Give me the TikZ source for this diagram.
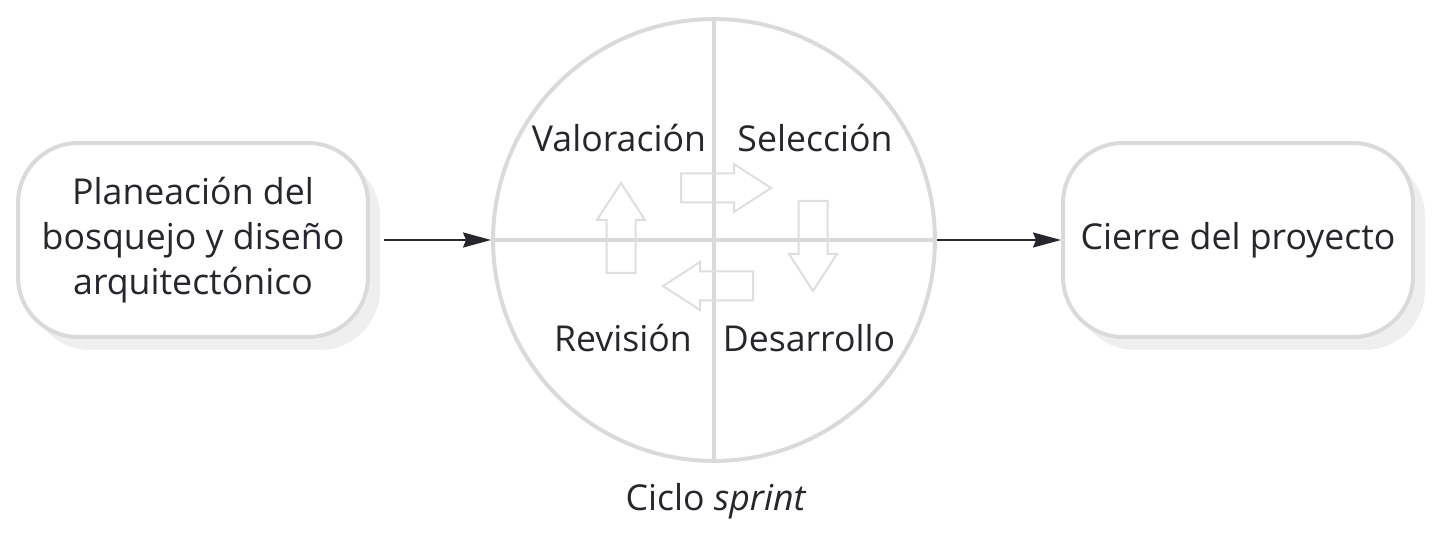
\documentclass[tikz,border=0pt]{standalone}
\usepackage{fontspec}
\setmainfont{Open Sans}
\usepackage{xcolor}
\usetikzlibrary{positioning, arrows.meta, shadows}

\definecolor{ink}{HTML}{25272D}
\definecolor{rim}{HTML}{DADADA}
\definecolor{shade}{HTML}{EFEFEF}
\definecolor{ghost}{HTML}{DEDEDE}

\begin{document}
\begin{tikzpicture}[
  x=0.02cm, y=0.02cm,
  every node/.style={font=\fontsize{20.3}{25.6}\selectfont, text=ink},
  phase/.style={draw=rim, line width=0.08cm, rounded corners=1.2cm,
    fill=white, minimum width=7cm, minimum height=3.88cm, align=center,
    drop shadow={shadow xshift=0.24cm, shadow yshift=-0.26cm,
      fill=shade, opacity=1}},
  conn/.style={-{Stealth[length=0.56cm, width=0.3cm, inset=0.06cm]},
    draw=ink, fill=ink, line width=0.04cm},
  blockline/.style={draw=ghost, line width=0.04cm, line join=miter},
  cyclearrow/.pic={
    \draw[blockline] (0,-14.5) -- (53,-14.5) -- (53,-24) -- (90,0)
      -- (53,24) -- (53,14.5) -- (0,14.5) -- cycle;
  }
]
\useasboundingbox (0,0) rectangle (1455,-536);

% ---- SPRINT CYCLE ----
\node[draw=rim, line width=0.08cm, circle, minimum size=8.84cm,
      inner sep=0pt] (ciclo) at (714,-240) {};
\draw[rim, line width=0.08cm] (ciclo.north) -- (ciclo.south);
\draw[rim, line width=0.08cm] (ciclo.west) -- (ciclo.east);

% ---- block arrows inside the cycle ----
\pic[rotate=90]  at (621,-273) {cyclearrow};
\pic             at (681,-188) {cyclearrow};
\pic[rotate=-90] at (813,-201) {cyclearrow};
\pic[rotate=180] at (753,-286) {cyclearrow};

% ---- quadrant labels ----
\node (val) at (619,-138) {Valoración};
\node (sel) at (815,-138) {Selección};
\node (rev) at (623,-338) {Revisión};
\node (des) at (809,-338) {Desarrollo};
\node (cap) at (716,-501) {Ciclo \textit{sprint}};

% ---- PHASE BOXES ----
\node[phase] (plan) at (193,-240)
  {Planeación del\\bosquejo y diseño\\arquitectónico};
\node[phase] (cierre) at (1238,-240) {Cierre del proyecto};

% ---- CONNECTORS ----
\draw[conn, shorten <=0.28cm] (plan) -- (ciclo);
\draw[conn] (ciclo) -- (cierre);

\end{tikzpicture}
\end{document}
